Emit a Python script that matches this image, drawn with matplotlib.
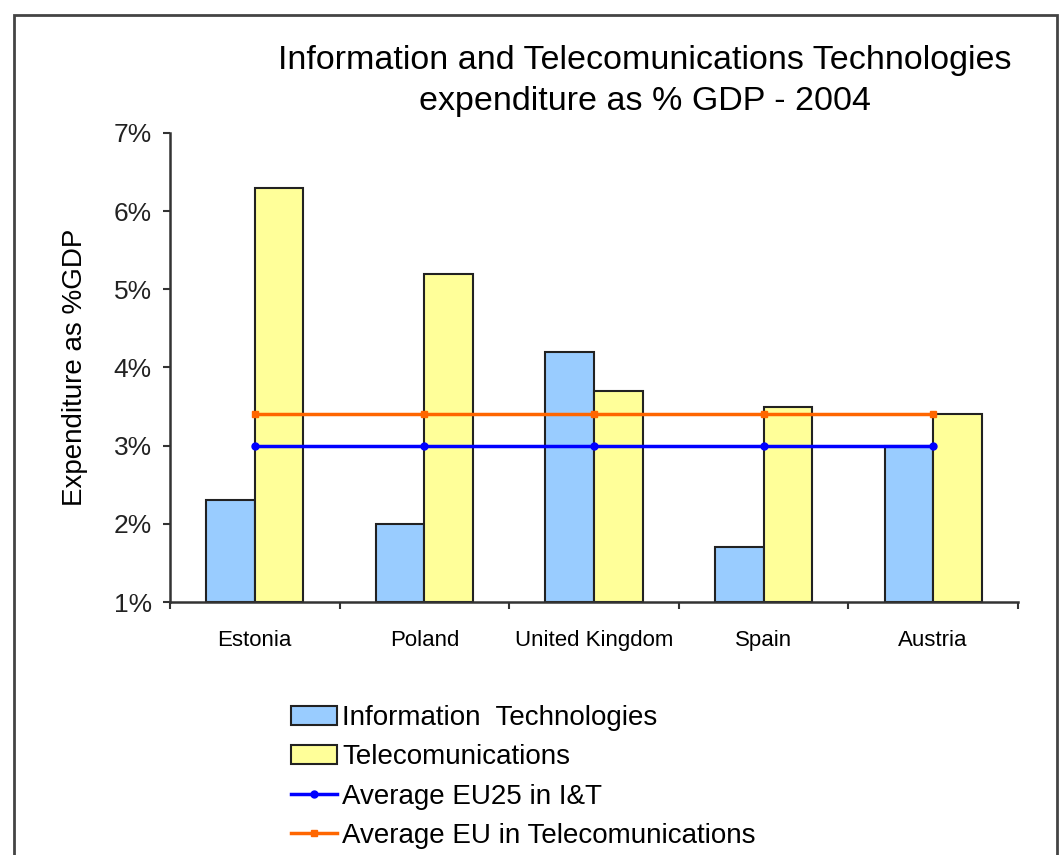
import matplotlib.pyplot as plt
import numpy as np
from matplotlib.patches import Rectangle

countries = ["Estonia", "Poland", "United Kingdom", "Spain", "Austria"]
it_values = [2.3, 2.0, 4.2, 1.7, 3.0]
tel_values = [6.3, 5.2, 3.7, 3.5, 3.4]
avg_eu25_it = [3.0, 3.0, 3.0, 3.0, 3.0]
avg_eu_tel = [3.4, 3.4, 3.4, 3.4, 3.4]
yticks = [1, 2, 3, 4, 5, 6, 7]

plt.rcParams["font.family"] = ["Liberation Sans", "DejaVu Sans"]

fig = plt.figure(figsize=(10.6, 8.55), dpi=100)
ax = fig.add_axes([170 / 1060, 1 - 602 / 855, 848 / 1060, 469 / 855])

x = np.arange(len(countries))
w = 0.286
b1 = ax.bar(x - w / 2, np.array(it_values) - 1, w, bottom=1, color="#99CCFF",
            edgecolor="#222222", linewidth=1.5, zorder=2)
b2 = ax.bar(x + w / 2, np.array(tel_values) - 1, w, bottom=1, color="#FFFF99",
            edgecolor="#222222", linewidth=1.5, zorder=2)
l1, = ax.plot(x, avg_eu25_it, color="#0000FF", lw=2.5, marker="o", ms=5, zorder=3)
l2, = ax.plot(x, avg_eu_tel, color="#FF6600", lw=2.5, marker="s", ms=4, zorder=3)

ax.set_xlim(-0.5, len(countries) - 0.5)
ax.set_ylim(1, 7)
ax.set_yticks(yticks)
ax.set_yticklabels([f"{v}%" for v in yticks], fontsize=19, color="#222222")
ax.set_xticks(np.arange(len(countries) + 1) - 0.5)
ax.set_xticklabels([])
ax.set_xticks(x, minor=True)
ax.set_xticklabels(countries, minor=True, fontsize=16)
ax.tick_params(axis="x", which="minor", length=0, pad=20)
ax.tick_params(axis="both", which="major", length=5, width=1.5, color="#333333")
ax.tick_params(axis="y", pad=8)
for s in ["top", "right"]:
    ax.spines[s].set_visible(False)
for s in ["left", "bottom"]:
    ax.spines[s].set_linewidth(1.8)
    ax.spines[s].set_color("#333333")

ax.set_ylabel("Expenditure as %GDP", fontsize=20)
ax.yaxis.set_label_coords(-0.097, 0.5)

fig.text(0.6085, 0.905, "Information and Telecomunications Technologies\nexpenditure as % GDP - 2004",
         ha="center", va="center", fontsize=24.5, linespacing=1.4)

ax.legend([b1, b2, l1, l2],
          ["Information  Technologies", "Telecomunications",
           "Average EU25 in I&T", "Average EU in Telecomunications"],
          loc="upper left", bbox_to_anchor=(266 / 1060, 1 - 680 / 855),
          bbox_transform=fig.transFigure, frameon=False, fontsize=20,
          handlelength=1.65, handletextpad=0.2, labelspacing=0.48)

fig.patches.append(Rectangle((14 / 1060, -0.01), 1043 / 1060, 0.9925,
                             transform=fig.transFigure, fill=False,
                             edgecolor="#444444", linewidth=2))

fig.savefig("out.png", dpi=100)
